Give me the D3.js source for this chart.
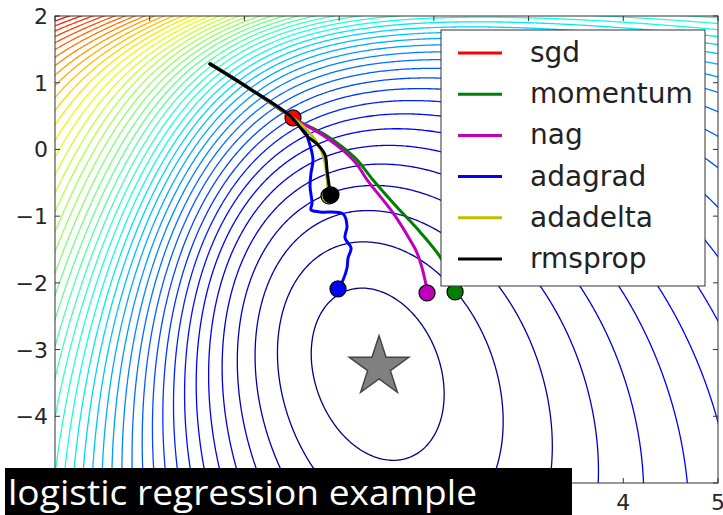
<!DOCTYPE html>
<html><head><meta charset="utf-8">
<script src="https://cdn.jsdelivr.net/npm/d3@7"></script>
<style>body{margin:0;background:#fff}</style>
</head><body>
<svg id="c" width="723" height="515"></svg>
<script>
const xTicks=[-2,-1,0,1,2,3,4,5];
const yTicks=[-5,-4,-3,-2,-1,0,1,2];
const xTickLabels=[4,5];
const yTickLabels=[-4,-3,-2,-1,0,1,2];
const names=["sgd","momentum","nag","adagrad","adadelta","rmsprop"];
const colors=["#ff0000","#008000","#bf00bf","#0000ff","#bfbf00","#000000"];
const sgd=[[-0.363,1.282],[0.059,0.907],[0.513,0.472]];
const momentum=[[-0.363,1.282],[0.059,0.907],[0.513,0.472],[0.872,0.202],[1.168,-0.127],[1.358,-0.457],[1.590,-0.832],[1.854,-1.237],[2.066,-1.612],[2.171,-1.912],[2.224,-2.136]];
const nag=[[-0.363,1.282],[0.059,0.907],[0.513,0.472],[0.872,0.172],[1.168,-0.187],[1.295,-0.457],[1.569,-0.952],[1.749,-1.357],[1.823,-1.552],[1.907,-1.957],[1.928,-2.151]];
const adagrad=[[-0.363,1.282],[0.059,0.907],[0.482,0.502],[0.619,0.322],[0.682,0.112],[0.724,-0.157],[0.703,-0.352],[0.693,-0.562],[0.714,-0.802],[0.703,-0.907],[0.798,-0.937],[1.041,-0.967],[1.083,-1.147],[1.062,-1.327],[1.126,-1.477],[1.094,-1.627],[1.083,-1.777],[1.041,-1.957],[0.988,-2.091]];
const adadelta=[[-0.363,1.282],[0.059,0.907],[0.482,0.502],[0.640,0.322],[0.746,0.142],[0.819,-0.037],[0.851,-0.202],[0.872,-0.427],[0.883,-0.607],[0.893,-0.697]];
const rmsprop=[[-0.363,1.282],[0.059,0.907],[0.482,0.502],[0.661,0.202],[0.777,0.067],[0.851,-0.082],[0.872,-0.307],[0.893,-0.532],[0.914,-0.682]];
const paths=[sgd,momentum,nag,adagrad,adadelta,rmsprop];
const optimum=[1.421,-3.26];
const caption="logistic regression example";
// loss surface parameters (estimated from the picture's contour lines)
const lossFocus=[-0.7966,-0.0853];
const lossMatrix=[-0.3769,-0.1013,-0.1018,0.1854];
const lossDrift=[1.3761,2.2948];
const rampWeight=6.625, rampDir=[-0.0258,1.4998], rampOffset=5.5331;
const levelStart=-1.0739, levelStep=0.05873, nLevels=52;

function loss(X,Y){
  const dx=X-lossFocus[0],dy=Y-lossFocus[1];
  const e1=lossMatrix[0]*dx+lossMatrix[1]*dy,e2=lossMatrix[2]*dx+lossMatrix[3]*dy;
  const be=lossDrift[0]*e1+lossDrift[1]*e2;
  const t=rampDir[0]*X+rampDir[1]*Y-rampOffset;
  return Math.log(Math.sqrt(1+e1*e1+e2*e2+be*be)+be)+rampWeight*Math.log1p(Math.exp(t));
}

const svg=d3.select("#c");
const L=55,R=718,T=16,B=483;
const x=d3.scaleLinear().domain([-2,5]).range([L,R]);
const y=d3.scaleLinear().domain([-5,2]).range([B,T]);

const jr=d3.scaleLinear().domain([0,0.35,0.66,0.89,1]).range([0,0,1,1,0.5]);
const jg=d3.scaleLinear().domain([0,0.125,0.375,0.64,0.91,1]).range([0,0,1,1,0,0]);
const jb=d3.scaleLinear().domain([0,0.11,0.34,0.65,1]).range([0.5,1,1,0,0]);
const jet=t=>d3.rgb(255*jr(t),255*jg(t),255*jb(t)).formatHex();

svg.append("rect").attr("width",723).attr("height",515).attr("fill","#fff");
svg.append("clipPath").attr("id","pa").append("rect").attr("x",L).attr("y",T).attr("width",R-L).attr("height",B-T);
const nx=380,ny=380,x0=-2.2,x1=5.2,y0=-5.2,y1=2.2;const ddx=(x1-x0)/(nx-1),ddy=(y1-y0)/(ny-1);
const vals=new Float64Array(nx*ny);
for(let j=0;j<ny;j++)for(let i=0;i<nx;i++)vals[j*nx+i]=loss(x0+i*ddx,y0+j*ddy);
const levels=d3.range(1,nLevels+1).map(k=>levelStart+k*levelStep);
const cont=d3.contours().size([nx,ny]).thresholds(levels)(vals);
const proj=d3.geoTransform({point:function(u,v){this.stream.point(x(x0+(u-0.5)*ddx),y(y0+(v-0.5)*ddy));}});
const gp=d3.geoPath(proj);
const gc=svg.append("g").attr("clip-path","url(#pa)");
gc.selectAll("path").data(cont).join("path").attr("d",gp).attr("fill","none").attr("stroke",(d,i)=>jet(i/(nLevels-1))).attr("stroke-width",1.3);

const line=d3.line().x(d=>x(d[0])).y(d=>y(d[1])).curve(d3.curveCatmullRom);
const gl=svg.append("g").attr("clip-path","url(#pa)");
paths.forEach((p,i)=>{
  gl.append("path").attr("d",line(p)).attr("fill","none").attr("stroke",colors[i]).attr("stroke-width",3).attr("stroke-linejoin","round").attr("stroke-linecap","round");
  const e=p[p.length-1];
  gl.append("circle").attr("cx",x(e[0])).attr("cy",y(e[1])).attr("r",8).attr("fill",colors[i]).attr("stroke","#000").attr("stroke-width",1.2);
});
const star=d3.symbol().type(d3.symbolStar).size(1100);
gl.append("path").attr("d",star()).attr("transform",`translate(${x(optimum[0])},${y(optimum[1])})`).attr("fill","#808080").attr("stroke","#444").attr("stroke-width",1.5);

const lg=svg.append("g");
lg.append("rect").attr("x",441).attr("y",30).attr("width",264).attr("height",256).attr("fill","#fff").attr("stroke","#333").attr("stroke-width",1);
names.forEach((n,i)=>{const yy=53+i*41.2;
  lg.append("line").attr("x1",458).attr("x2",502).attr("y1",yy).attr("y2",yy).attr("stroke",colors[i]).attr("stroke-width",3);
  lg.append("text").attr("x",530).attr("y",yy+9).text(n).attr("font-family","DejaVu Sans").attr("font-size",28).attr("fill","#222");});

const ax=svg.append("g");
ax.append("rect").attr("x",L).attr("y",T).attr("width",R-L).attr("height",B-T).attr("fill","none").attr("stroke","#333").attr("stroke-width",1);
const fmt=t=>t<0?"\u2212"+(-t):String(t);
xTicks.forEach(t=>{ax.append("line").attr("x1",x(t)).attr("x2",x(t)).attr("y1",T).attr("y2",T+5).attr("stroke","#333");ax.append("line").attr("x1",x(t)).attr("x2",x(t)).attr("y1",B).attr("y2",B-5).attr("stroke","#333");});
yTicks.forEach(t=>{ax.append("line").attr("x1",L).attr("x2",L+5).attr("y1",y(t)).attr("y2",y(t)).attr("stroke","#333");ax.append("line").attr("x1",R).attr("x2",R-5).attr("y1",y(t)).attr("y2",y(t)).attr("stroke","#333");});
xTickLabels.forEach(t=>ax.append("text").attr("x",x(t)).attr("y",510).attr("text-anchor","middle").text(fmt(t)).attr("font-family","DejaVu Sans").attr("font-size",22).attr("fill","#262626"));
yTickLabels.forEach(t=>ax.append("text").attr("x",48).attr("y",y(t)+8).attr("text-anchor","end").text(fmt(t)).attr("font-family","DejaVu Sans").attr("font-size",22).attr("fill","#262626"));

svg.append("rect").attr("x",5).attr("y",468).attr("width",567).attr("height",47).attr("fill","#000");
svg.append("text").attr("x",8).attr("y",505).text(caption).attr("font-family","Open Sans").attr("font-size",34).attr("fill","#fff").attr("textLength",469).attr("lengthAdjust","spacingAndGlyphs");
</script></body></html>
